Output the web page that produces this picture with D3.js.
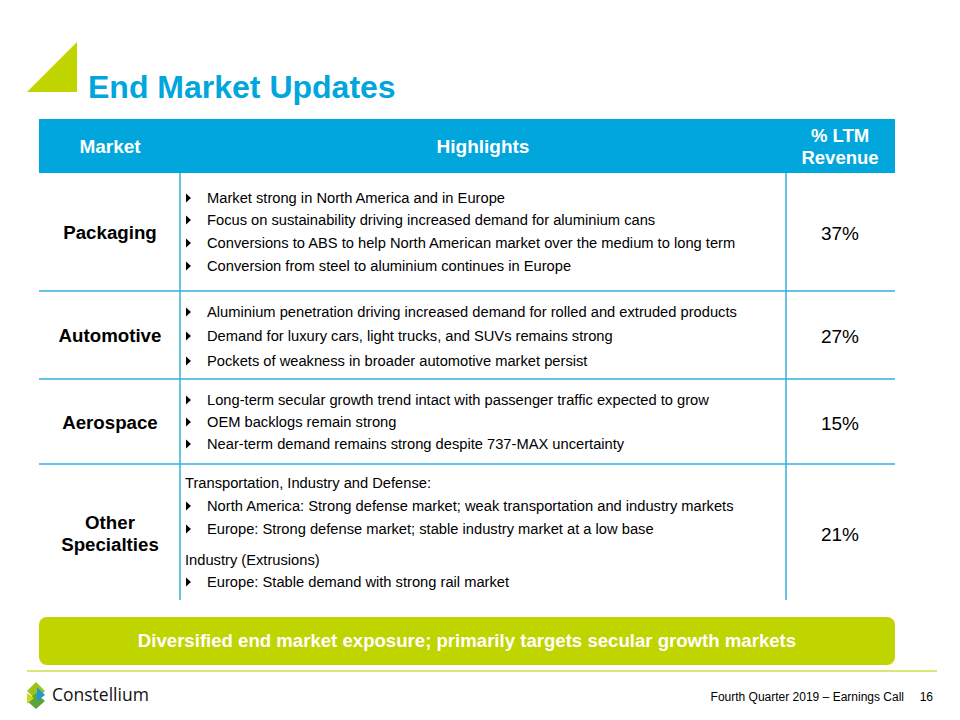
<!DOCTYPE html>
<html><head><meta charset="utf-8">
<script src="https://cdn.jsdelivr.net/npm/d3@7"></script>
<style>body{margin:0;background:#fff}svg{display:block;font-family:"Liberation Sans",Arial,sans-serif}</style>
</head><body><svg id="c" width="960" height="720"></svg>
<script>
const title = "End Market Updates";
const headers = ["Market", "Highlights", "% LTM\nRevenue"];
const markets = ["Packaging", "Automotive", "Aerospace", "Other\nSpecialties"];
const ltmRevenue = [37, 27, 15, 21];
const rowBounds = [173, 291, 379, 464, 600];
// highlight lines: [text, isBullet]
const packagingLines = [
  ["Market strong in North America and in Europe", true],
  ["Focus on sustainability driving increased demand for aluminium cans", true],
  ["Conversions to ABS to help North American market over the medium to long term", true],
  ["Conversion from steel to aluminium continues in Europe", true]];
const automotiveLines = [
  ["Aluminium penetration driving increased demand for rolled and extruded products", true],
  ["Demand for luxury cars, light trucks, and SUVs remains strong", true],
  ["Pockets of weakness in broader automotive market persist", true]];
const aerospaceLines = [
  ["Long-term secular growth trend intact with passenger traffic expected to grow", true],
  ["OEM backlogs remain strong", true],
  ["Near-term demand remains strong despite 737-MAX uncertainty", true]];
const otherLines = [
  ["Transportation, Industry and Defense:", false],
  ["North America: Strong defense market; weak transportation and industry markets", true],
  ["Europe: Strong defense market; stable industry market at a low base", true],
  ["Industry (Extrusions)", false],
  ["Europe: Stable demand with strong rail market", true]];
const lineY = [[198, 220, 243, 266], [312, 336, 361], [400, 422, 444], [483, 506, 529, 560, 582]];
const highlights = [packagingLines, automotiveLines, aerospaceLines, otherLines];
const banner = "Diversified end market exposure; primarily targets secular growth markets";
const footer = "Fourth Quarter 2019 \u2013 Earnings Call";
const pageNo = "16";

const BLUE = "#00A6DC", LINE = "#35AFDB", GREEN = "#C0D400";
const svg = d3.select("#c");
const colX = [39, 180, 786, 895];

// title triangle
svg.append("path").attr("d", "M27,92L77,42L77,92Z").attr("fill", GREEN);
svg.append("text").attr("x", 88).attr("y", 98).attr("fill", BLUE)
  .attr("font-size", 32).attr("font-weight", "bold").text(title);

// header
svg.append("rect").attr("x", colX[0]).attr("y", 119).attr("width", colX[3]-colX[0]).attr("height", 54).attr("fill", BLUE);
const hx = [110, 483, 840];
const hSize = [19, 19, 18.5];
headers.forEach((h, i) => {
  const parts = h.split("\n");
  const t = svg.append("text").attr("text-anchor", "middle").attr("fill", "#fff")
    .attr("font-size", hSize[i]).attr("font-weight", "bold");
  parts.forEach((p, j) => t.append("tspan").attr("x", hx[i])
    .attr("y", 153 - (parts.length - 1) * 11 + j * 22).text(p));
});

// grid lines
svg.selectAll("line.row").data(rowBounds.slice(1, 4)).join("line")
  .attr("x1", colX[0]).attr("x2", colX[3]).attr("y1", d => d).attr("y2", d => d)
  .attr("stroke", LINE).attr("stroke-width", 1.5);
[colX[1], colX[2]].forEach(x => svg.append("line").attr("x1", x).attr("x2", x)
  .attr("y1", 173).attr("y2", 600).attr("stroke", LINE).attr("stroke-width", 1.5));

// rows
const labelY = [233, 336, 423, 534];
markets.forEach((m, i) => {
  const parts = m.split("\n");
  const t = svg.append("text").attr("text-anchor", "middle").attr("fill", "#000")
    .attr("font-size", 18.7).attr("font-weight", "bold");
  const my = labelY[i];
  parts.forEach((p, j) => t.append("tspan").attr("x", 110)
    .attr("y", my + 6 - (parts.length - 1) * 11 + j * 22).text(p));
  svg.append("text").attr("x", 840).attr("y", my + 7).attr("text-anchor", "middle")
    .attr("font-size", 19).attr("fill", "#000").text(ltmRevenue[i] + "%");
  highlights[i].forEach((ln, k) => {
    const y = lineY[i][k];
    if (ln[1]) {
      svg.append("path").attr("d", `M186,${y-4.5}L191,${y}L186,${y+4.5}Z`).attr("fill", "#000");
      svg.append("text").attr("x", 207).attr("y", y + 5).attr("font-size", 14.7).attr("fill", "#000").text(ln[0]);
    } else {
      svg.append("text").attr("x", 185).attr("y", y + 5).attr("font-size", 14.7).attr("fill", "#000").text(ln[0]);
    }
  });
});

// banner
svg.append("rect").attr("x", 39).attr("y", 617).attr("width", 856).attr("height", 48).attr("rx", 8).attr("fill", GREEN);
svg.append("text").attr("x", 467).attr("y", 647).attr("text-anchor", "middle").attr("fill", "#fff")
  .attr("font-size", 18.6).attr("font-weight", "bold").text(banner);
svg.append("line").attr("x1", 27).attr("x2", 937).attr("y1", 671).attr("y2", 671).attr("stroke", "#CFDE4A").attr("stroke-width", 1.5);

// logo
const lg = svg.append("g").attr("transform", "translate(36,695)");
lg.append("path").attr("d", "M0,-13L9,-4L0,5L-9,-4Z").attr("fill", "#9DC31B");
lg.append("path").attr("d", "M0,-2L9,6L0,14L-9,6Z").attr("fill", "#5BA53A");
lg.append("path").attr("d", "M1,-8L9,0L1,6Z").attr("fill", "#1C9AD6");
lg.append("path").attr("d", "M-9,-2L-2,3L-9,9Z").attr("fill", "#C9D81E");
svg.append("text").attr("x", 52).attr("y", 701).attr("font-family", "'Open Sans',sans-serif")
  .attr("font-size", 17.5).attr("fill", "#111").text("Constellium");

svg.append("text").attr("x", 904).attr("y", 701).attr("text-anchor", "end").attr("font-size", 12).attr("fill", "#000").text(footer);
svg.append("text").attr("x", 933).attr("y", 701).attr("text-anchor", "end").attr("font-size", 12).attr("fill", "#000").text(pageNo);
</script></body></html>
